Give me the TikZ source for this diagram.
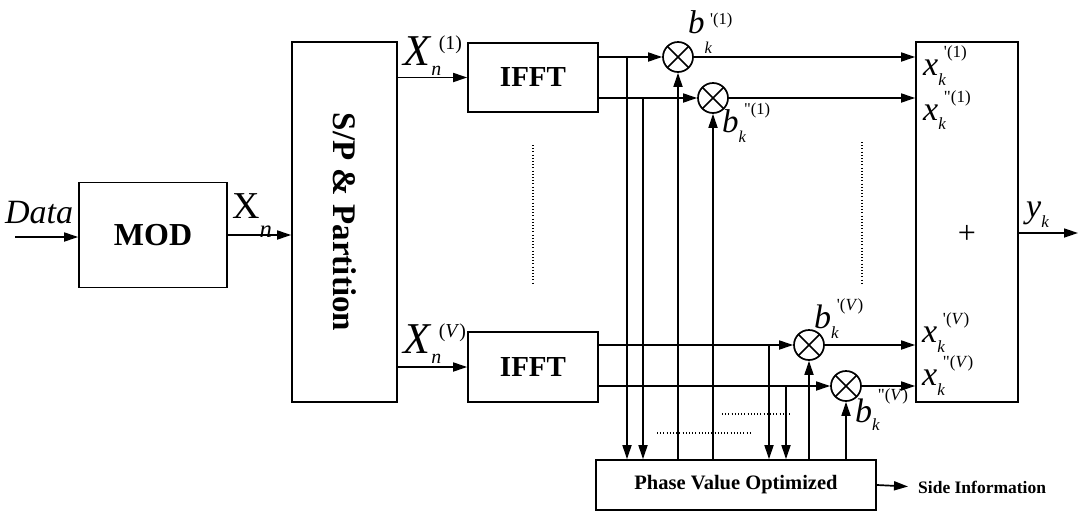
\documentclass[tikz,border=0pt]{standalone}
\usepackage{fontspec}
\setmainfont{Liberation Serif}
\usetikzlibrary{arrows.meta,positioning,calc}
% base letter with subscript below and superscript above-right
\newcommand\symlab[6]{#1\makebox[0pt][l]{\raisebox{-#4}{\scalebox{#6}{\itshape #2}}}\,\raisebox{#5}{\scalebox{#6}{#3}}}
\newcommand\tick{\textquotesingle}
\newcommand\ticks{\textquotedbl}

\begin{document}
\begin{tikzpicture}[
    x=1pt, y=-1pt,
    blk/.style={draw, line width=1.7pt, inner sep=0pt},
    mult/.style={draw, circle, line width=1.7pt, minimum size=30pt, inner sep=0pt,
      path picture={\draw[line width=1.7pt]
        (path picture bounding box.south west) -- (path picture bounding box.north east)
        (path picture bounding box.north west) -- (path picture bounding box.south east);}},
    arr/.style={-{Triangle[length=14pt,width=9pt]}, line width=1.7pt},
    dots/.style={line width=1.8pt, dash pattern=on 1pt off 2.2pt},
    lbl/.style={inner sep=0pt},
    bigf/.style={font=\bfseries\fontsize{#1}{#1}\selectfont},
    symf/.style={inner sep=0pt, anchor=base west, font=\fontsize{#1}{#1}\selectfont}
  ]
    \useasboundingbox (0,0) rectangle (1080,512);
    % blocks
    \node[blk, bigf=32, minimum width=148pt, minimum height=105pt] (mod) at (153,235) {MOD};
    \node[blk, bigf=33, minimum width=105pt, minimum height=360pt] (sp) at (344.5,222) {\rotatebox{-90}{S/P \& Partition}};
    \node[blk, bigf=29, minimum width=130pt, minimum height=69pt] (ifft1) at (533,77.5) {IFFT};
    \node[blk, bigf=29, minimum width=130pt, minimum height=70pt] (ifftV) at (533,367) {IFFT};
    \node[blk, minimum width=102pt, minimum height=360pt] (sum) at (967,222) {};
    \node[lbl, font=\fontsize{32}{32}\selectfont] (plus) at (967,234) {+};
    \node[blk, bigf=20.5, minimum width=280pt, minimum height=50pt] (phase) at (736,485) {Phase Value Optimized};
    \node[lbl, bigf=17.5, anchor=west] (side) at (918,487) {Side Information};
    % multipliers
    \node[mult] (m1) at (678,57) {};
    \node[mult] (m2) at (713,98) {};
    \node[mult] (mV1) at (809,345) {};
    \node[mult] (mV2) at (846,386) {};
    % free ends and taps
    \coordinate (datain) at (15,237);
    \coordinate (yout) at (1078,233);
    \coordinate (ta) at (627,0);
    \coordinate (tb) at (643,0);
    \coordinate (tc) at (769,0);
    \coordinate (td) at (786,0);
    % connectors
    \draw[arr] (datain) -- (datain -| mod.west);
    \draw[arr] (mod.east) -- (mod.east -| sp.west);
    \draw[arr] (sp.east |- ifft1) -- (ifft1.west);
    \draw[arr] (sp.east |- ifftV) -- (ifftV.west);
    \draw[arr] (ifft1.east |- m1) -- (m1.west);
    \draw[arr] (ifft1.east |- m2) -- (m2.west);
    \draw[arr] (ifftV.east |- mV1) -- (mV1.west);
    \draw[arr] (ifftV.east |- mV2) -- (mV2.west);
    \foreach \m in {m1,m2,mV1,mV2} {
      \draw[arr] (\m.east) -- (\m -| sum.west);
      \draw[arr] (phase.north -| \m) -- (\m.south);
    }
    \draw[arr] (ta |- m1) -- (ta |- phase.north);
    \draw[arr] (tb |- m2) -- (tb |- phase.north);
    \draw[arr] (tc |- mV1) -- (tc |- phase.north);
    \draw[arr] (td |- mV2) -- (td |- phase.north);
    \draw[arr] (sum.east |- yout) -- (yout);
    \draw[arr, shorten >=10pt] (phase.east) -- (side.west);
    % dotted fillers
    \draw[dots] (533,145) -- (533,285);
    \draw[dots] (862,142) -- (862,283);
    \draw[dots] (722,414) -- (792,414);
    \draw[dots] (657,433) -- (750,433);
    % labels
    \node[symf=34] (datalbl) at (5,223) {\textit{Data}};
    \node[symf=38] (xn) at (232,218) {\symlab{X}{n}{}{19pt}{0pt}{0.65}};
    \node[symf=44] (xn1) at (403,65) {\symlab{\textit{X}}{n}{(1)}{10pt}{16pt}{0.45}};
    \node[symf=44] (xnV) at (403,353) {\symlab{\textit{X}}{n}{(\textit{V})}{10pt}{16pt}{0.45}};
    \node[symf=33] (b1a) at (688,33) {\symlab{\textit{b}}{k}{\tick(1)}{20pt}{9pt}{0.5}};
    \node[symf=33] (b1b) at (722,132) {\symlab{\textit{b}}{k}{\ticks(1)}{10pt}{18pt}{0.5}};
    \node[symf=34] (bVa) at (814,328) {\symlab{\textit{b}}{k}{\tick(\textit{V})}{10pt}{18pt}{0.5}};
    \node[symf=34] (bVb) at (855,422) {\symlab{\textit{b}}{k}{\ticks(\textit{V})}{8pt}{22pt}{0.5}};
    \node[symf=34] (x1a) at (923,75) {\symlab{\textit{x}}{k}{\tick(1)}{10pt}{18pt}{0.5}};
    \node[symf=34] (x1b) at (923,120) {\symlab{\textit{x}}{k}{\ticks(1)}{9pt}{18pt}{0.5}};
    \node[symf=34] (xVa) at (922,342) {\symlab{\textit{x}}{k}{\tick(\textit{V})}{10pt}{18pt}{0.5}};
    \node[symf=34] (xVb) at (922,385) {\symlab{\textit{x}}{k}{\ticks(\textit{V})}{10pt}{18pt}{0.5}};
    \node[symf=34] (ylbl) at (1026,217) {\symlab{\textit{y}}{k}{}{10pt}{0pt}{0.5}};
\end{tikzpicture}
\end{document}
